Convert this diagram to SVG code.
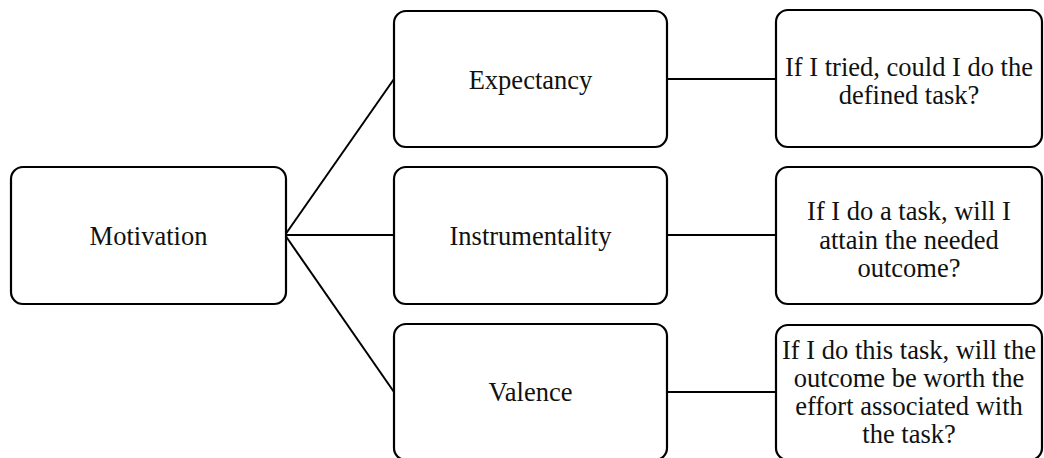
<svg xmlns="http://www.w3.org/2000/svg" width="1044" height="458" viewBox="0 0 1044 458">
<style>
.box{fill:#fff;stroke:#000;stroke-width:2.2}
.lbl{font-family:"Liberation Serif","Times New Roman",serif;font-size:26.5px;fill:#111;text-anchor:middle}
.con{stroke:#000;stroke-width:2;fill:none}
</style>
<rect width="1044" height="458" fill="#fff"/>
<g id="connectors">
<line class="con" x1="285" y1="235" x2="394" y2="79"/>
<line class="con" x1="285" y1="235" x2="394" y2="235"/>
<line class="con" x1="285" y1="235" x2="394" y2="392"/>
<line class="con" x1="667" y1="79" x2="776" y2="79"/>
<line class="con" x1="667" y1="235" x2="776" y2="235"/>
<line class="con" x1="667" y1="392" x2="776" y2="392"/>
</g>
<g id="motivation">
<rect class="box" x="11" y="167" width="275" height="137" rx="12"/>
<text class="lbl" x="148.5" y="245">Motivation</text>
</g>
<g id="expectancy">
<rect class="box" x="394" y="11" width="273" height="136" rx="12"/>
<text class="lbl" x="530.5" y="89">Expectancy</text>
</g>
<g id="instrumentality">
<rect class="box" x="394" y="167" width="273" height="137" rx="12"/>
<text class="lbl" x="530.5" y="245">Instrumentality</text>
</g>
<g id="valence">
<rect class="box" x="394" y="324" width="273" height="136" rx="12"/>
<text class="lbl" x="530.5" y="401">Valence</text>
</g>
<g id="q-expectancy">
<rect class="box" x="776" y="10" width="266" height="137" rx="12"/>
<text class="lbl" x="909"><tspan x="909" y="76">If I tried, could I do the</tspan><tspan x="909" y="104">defined task?</tspan></text>
</g>
<g id="q-instrumentality">
<rect class="box" x="776" y="167" width="266" height="137" rx="12"/>
<text class="lbl" x="909"><tspan x="909" y="220">If I do a task, will I</tspan><tspan x="909" y="249">attain the needed</tspan><tspan x="909" y="277">outcome?</tspan></text>
</g>
<g id="q-valence">
<rect class="box" x="776" y="325" width="266" height="135" rx="12"/>
<text class="lbl" x="909"><tspan x="909" y="359">If I do this task, will the</tspan><tspan x="909" y="387">outcome be worth the</tspan><tspan x="909" y="415">effort associated with</tspan><tspan x="909" y="443">the task?</tspan></text>
</g>
</svg>
